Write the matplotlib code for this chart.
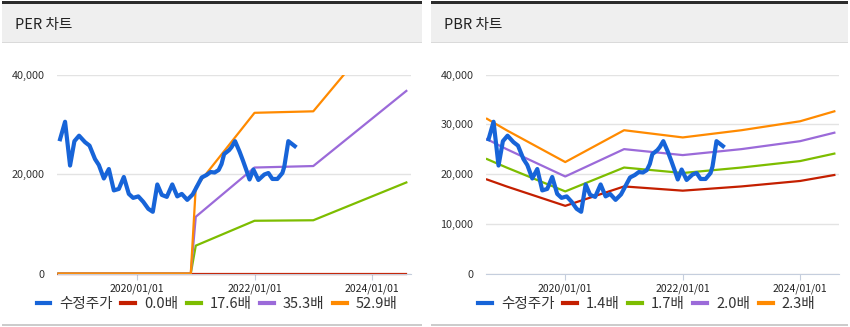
import numpy as np
import pandas as pd
import matplotlib
matplotlib.use('Agg')
import matplotlib.pyplot as plt
import matplotlib.dates as mdates
from matplotlib.patches import Rectangle
from matplotlib.ticker import FuncFormatter
from matplotlib.transforms import Bbox, TransformedBbox

plt.rcParams['font.family'] = ['Noto Sans CJK KR', 'DejaVu Sans']

# adjusted price (수정주가)
price_dates = ['2018-09-11', '2018-10-12', '2018-11-12', '2018-12-09', '2019-01-07',
               '2019-02-13', '2019-03-13', '2019-04-16', '2019-05-10', '2019-06-10',
               '2019-07-11', '2019-08-11', '2019-09-11', '2019-10-12', '2019-11-12',
               '2019-12-09', '2020-01-10', '2020-02-10', '2020-03-12', '2020-04-09',
               '2020-05-07', '2020-06-04', '2020-07-05', '2020-08-08', '2020-09-08',
               '2020-10-06', '2020-11-09', '2020-12-13', '2021-01-10', '2021-02-07',
               '2021-03-09', '2021-04-03', '2021-04-28', '2021-05-23', '2021-06-10',
               '2021-06-26', '2021-07-27', '2021-08-11', '2021-09-02', '2021-09-30',
               '2021-10-21', '2021-11-12', '2021-12-01', '2021-12-25', '2022-01-25',
               '2022-03-03', '2022-03-28', '2022-04-22', '2022-05-23', '2022-06-23',
               '2022-07-05', '2022-07-30', '2022-09-08']
price = [27000, 30500, 21700, 26600, 27700, 26400, 25700, 23000, 21800, 19100,
         21000, 16700, 17000, 19400, 16000, 15200, 15500, 14400, 13000, 12400,
         17900, 15800, 15400, 17900, 15500, 16000, 14800, 15900, 17600, 19300,
         19800, 20400, 20300, 20800, 22000, 24000, 24800, 25400, 26600, 24500,
         22700, 20700, 18900, 20900, 18800, 19900, 20200, 19000, 19000, 20200,
         21500, 26600, 25600]

# PER bands
per_dates = ['2018-09-01', '2020-12-01', '2021-01-01', '2022-01-01', '2023-01-01', '2024-08-01']
per_labels = ['0.0배', '17.6배', '35.3배', '52.9배']
per_00 = [0, 0, 0, 0, 0, 0]
per_176 = [0, 0, 5600, 10600, 10700, 18300]
per_353 = [0, 0, 11400, 21300, 21600, 36700]
per_529 = [0, 0, 17400, 32300, 32600, 55000]

# PBR bands
pbr_dates = ['2018-09-01', '2019-01-01', '2020-01-01', '2021-01-01', '2022-01-01',
             '2023-01-01', '2024-01-01', '2024-08-01']
pbr_labels = ['1.4배', '1.7배', '2.0배', '2.3배']
pbr_14 = [18900, 17500, 13600, 17500, 16650, 17500, 18600, 19800]
pbr_17 = [23000, 21300, 16500, 21300, 20200, 21300, 22600, 24100]
pbr_20 = [27000, 25000, 19500, 25000, 23800, 25000, 26600, 28300]
pbr_23 = [31100, 28800, 22400, 28800, 27350, 28800, 30600, 32600]

band_colors = ['#c41f00', '#7dbd00', '#9b6ad9', '#ff8a00']
blue = '#1764d8'

W, H = 850, 327
fig = plt.figure(figsize=(8.5, 3.27), dpi=100)


def px_rect(x, y, w, h, color):
    fig.add_artist(Rectangle((x / W, 1 - (y + h) / H), w / W, h / H,
                             transform=fig.transFigure, color=color, lw=0))


def panel(x0, x1, title):
    px_rect(x0, 3, x1 - x0, 39, '#efefef')
    px_rect(x0, 1.5, x1 - x0, 2, '#2b2b2b')
    px_rect(x0, 41.5, x1 - x0, 1.2, '#dadada')
    px_rect(x0, 324, x1 - x0, 2, '#cccccc')
    fig.text((x0 + 13) / W, 1 - 25 / H, title, va='center', ha='left',
             fontsize=10.5, color='#222222')


panel(2, 422, 'PER 차트')
panel(431, 848, 'PBR 차트')

xmin, xmax = pd.Timestamp('2018-08-26'), pd.Timestamp('2024-08-30')


def setup(ax, step):
    ax.set_xlim(xmin, xmax)
    ax.set_ylim(0, 40000)
    ax.set_yticks(np.arange(0, 40001, step))
    ax.yaxis.set_major_formatter(FuncFormatter(lambda v, p: f'{v:,.0f}'))
    ax.xaxis.set_major_locator(mdates.YearLocator(2))
    ax.xaxis.set_major_formatter(mdates.DateFormatter('%Y/%m/%d'))
    ax.grid(axis='y', color='#e3e3e3', lw=1)
    ax.set_axisbelow(True)
    for s in ['top', 'right', 'left']:
        ax.spines[s].set_visible(False)
    ax.spines['bottom'].set_color('#c5cedd')
    ax.tick_params(axis='y', length=0, pad=9, labelsize=7.8, labelcolor='#333333')
    ax.tick_params(axis='x', length=4, color='#c5cedd', pad=3, labelsize=7.5,
                   labelcolor='#222222')


def legend(ax, labels, cx):
    handles = [plt.Line2D([], [], color=blue, lw=3)] + \
              [plt.Line2D([], [], color=c, lw=3) for c in band_colors]
    ax.legend(handles, ['수정주가'] + labels, loc='center', bbox_to_anchor=(cx, -0.155),
              ncol=5, frameon=False, fontsize=10.5, handlelength=0.95,
              handletextpad=0.6, columnspacing=0.6, labelcolor='#333333')


bottom = (H - 273.5) / H
height = 199 / H

# PER chart
ax1 = fig.add_axes([57.5 / W, bottom, 353.5 / W, height])
setup(ax1, 20000)
pd_per = pd.to_datetime(per_dates)
clip = TransformedBbox(Bbox([[0, -0.03], [1, 1]]), ax1.transAxes)
for vals, c in zip([per_00, per_176, per_353, per_529], band_colors):
    ln, = ax1.plot(pd_per, vals, color=c, lw=1.6)
    ln.set_clip_box(clip)
ax1.plot(pd.to_datetime(price_dates), price, color=blue, lw=3, solid_joinstyle='round',
         zorder=5)
legend(ax1, per_labels, 0.451)

# PBR chart
ax2 = fig.add_axes([486 / W, bottom, 353 / W, height])
setup(ax2, 10000)
pd_pbr = pd.to_datetime(pbr_dates)
for vals, c in zip([pbr_14, pbr_17, pbr_20, pbr_23], band_colors):
    ax2.plot(pd_pbr, vals, color=c, lw=1.6)
ax2.plot(pd.to_datetime(price_dates), price, color=blue, lw=3, solid_joinstyle='round',
         zorder=5)
legend(ax2, pbr_labels, 0.455)

fig.savefig('out.png', dpi=100)
